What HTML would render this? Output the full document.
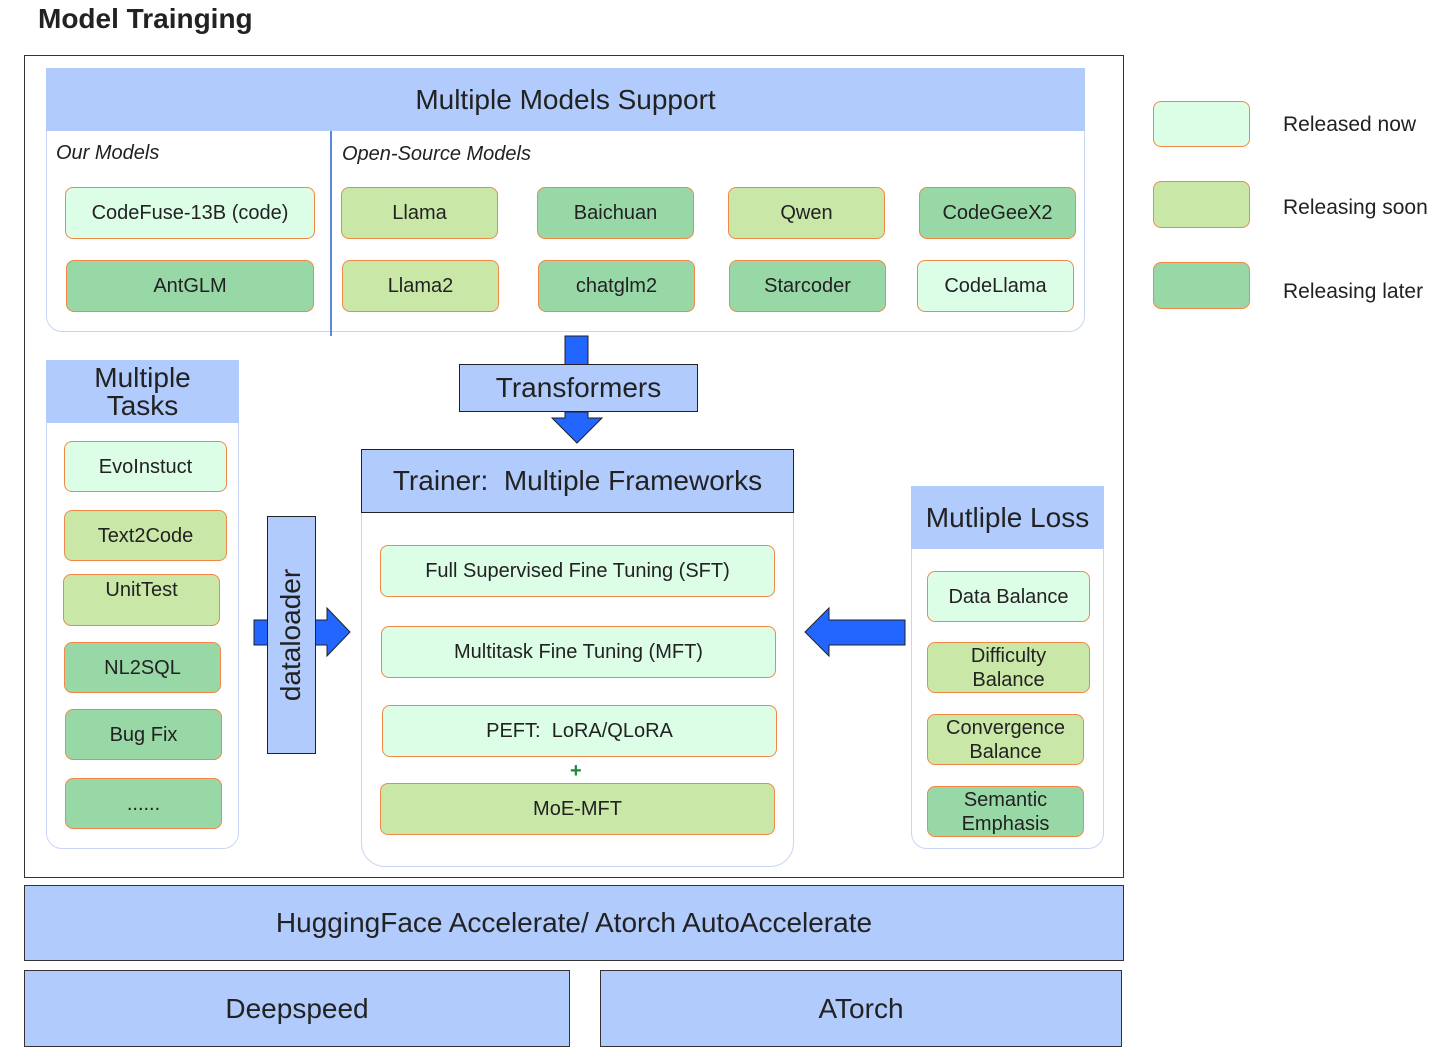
<!DOCTYPE html>
<html><head><meta charset="utf-8"><style>
body{margin:0;width:1442px;height:1064px;background:#fff;position:relative;font-family:"Liberation Sans","DejaVu Sans",sans-serif;color:#222;overflow:hidden}
div{position:absolute;box-sizing:border-box}
.hb{background:#b0cbfc;display:flex;align-items:center;justify-content:center;text-align:center;line-height:1}
.pan{border:1px solid #c8d6f4;border-radius:0 0 16px 16px}
.b{border:1.5px solid #f08848;border-radius:8px;display:flex;align-items:center;justify-content:center;text-align:center;font-size:20px;line-height:1.2}
.n{background:#dcfde6}.s{background:#c9e8a8}.l{background:#98d7a6}
.it{font-style:italic;font-size:20px}
.dk{border:1.5px solid #222}
</style></head><body>
<div style="left:38px;top:3px;font-size:28px;font-weight:bold">Model Trainging</div>
<div style="left:24px;top:55px;width:1100px;height:823px;border:1.5px solid #333"></div>

<div class="pan" style="left:46px;top:68px;width:1039px;height:264px"></div>
<div class="hb" style="left:46px;top:68px;width:1039px;height:63px;font-size:28px">Multiple Models Support</div>
<div style="left:330px;top:131px;width:2px;height:205px;background:#5b8ad8"></div>
<div class="it" style="left:56px;top:142px">Our Models</div>
<div class="it" style="left:342px;top:143px">Open-Source Models</div>
<div class="b n" style="left:65px;top:187px;width:250px;height:52px">CodeFuse-13B (code)</div>
<div class="b l" style="left:66px;top:260px;width:248px;height:52px">AntGLM</div>
<div class="b s" style="left:341px;top:187px;width:157px;height:52px">Llama</div>
<div class="b l" style="left:537px;top:187px;width:157px;height:52px">Baichuan</div>
<div class="b s" style="left:728px;top:187px;width:157px;height:52px">Qwen</div>
<div class="b l" style="left:919px;top:187px;width:157px;height:52px">CodeGeeX2</div>
<div class="b s" style="left:342px;top:260px;width:157px;height:52px">Llama2</div>
<div class="b l" style="left:538px;top:260px;width:157px;height:52px">chatglm2</div>
<div class="b l" style="left:729px;top:260px;width:157px;height:52px">Starcoder</div>
<div class="b n" style="left:917px;top:260px;width:157px;height:52px">CodeLlama</div>

<svg style="position:absolute;left:0;top:0" width="1442" height="1064">
<rect x="565" y="336" width="23" height="30" fill="#2266ff" stroke="#222"/>
<polygon points="565,412 588,412 588,418 602,418 577,443 552,418 565,418" fill="#2266ff" stroke="#222"/>
<polygon points="254,620 327,620 327,608 350,632 327,656 327,645 254,645" fill="#2266ff" stroke="#222"/>
<polygon points="905,620 829,620 829,608 805,632 829,656 829,645 905,645" fill="#2266ff" stroke="#222"/>
</svg>
<div class="hb dk" style="left:459px;top:364px;width:239px;height:48px;font-size:28px">Transformers</div>

<div class="pan" style="left:46px;top:360px;width:193px;height:489px"></div>
<div class="hb" style="left:46px;top:360px;width:193px;height:63px;font-size:28px">Multiple<br>Tasks</div>
<div class="b n" style="left:64px;top:441px;width:163px;height:51px">EvoInstuct</div>
<div class="b s" style="left:64px;top:510px;width:163px;height:51px">Text2Code</div>
<div class="b s" style="left:63px;top:574px;width:157px;height:52px;align-items:flex-start;padding-top:3px">UnitTest</div>
<div class="b l" style="left:64px;top:642px;width:157px;height:51px">NL2SQL</div>
<div class="b l" style="left:65px;top:709px;width:157px;height:51px">Bug Fix</div>
<div class="b l" style="left:65px;top:778px;width:157px;height:51px">......</div>

<div class="hb dk" style="left:267px;top:516px;width:49px;height:238px"><span style="transform:rotate(-90deg);font-size:28px;white-space:nowrap">dataloader</span></div>

<div class="pan" style="left:361px;top:449px;width:433px;height:418px;border-radius:0 0 24px 24px"></div>
<div class="hb dk" style="left:361px;top:449px;width:433px;height:64px;font-size:28px">Trainer:&nbsp;&nbsp;Multiple Frameworks</div>
<div class="b n" style="left:380px;top:545px;width:395px;height:52px">Full Supervised Fine Tuning (SFT)</div>
<div class="b n" style="left:381px;top:626px;width:395px;height:52px">Multitask Fine Tuning (MFT)</div>
<div class="b n" style="left:382px;top:705px;width:395px;height:52px">PEFT:&nbsp;&nbsp;LoRA/QLoRA</div>
<div style="left:570px;top:760px;font-size:20px;color:#1a8a3a;font-weight:bold">+</div>
<div class="b s" style="left:380px;top:783px;width:395px;height:52px">MoE-MFT</div>

<div class="pan" style="left:911px;top:486px;width:193px;height:363px"></div>
<div class="hb" style="left:911px;top:486px;width:193px;height:63px;font-size:28px">Mutliple Loss</div>
<div class="b n" style="left:927px;top:571px;width:163px;height:51px">Data Balance</div>
<div class="b s" style="left:927px;top:642px;width:163px;height:51px">Difficulty<br>Balance</div>
<div class="b s" style="left:927px;top:714px;width:157px;height:51px">Convergence<br>Balance</div>
<div class="b l" style="left:927px;top:786px;width:157px;height:51px">Semantic<br>Emphasis</div>

<div class="hb" style="left:24px;top:885px;width:1100px;height:76px;font-size:28px;border:1.5px solid #333">HuggingFace Accelerate/ Atorch AutoAccelerate</div>
<div class="hb" style="left:24px;top:970px;width:546px;height:77px;font-size:28px;border:1.5px solid #333">Deepspeed</div>
<div class="hb" style="left:600px;top:970px;width:522px;height:77px;font-size:28px;border:1.5px solid #333">ATorch</div>

<div class="b n" style="left:1153px;top:101px;width:97px;height:46px"></div>
<div class="b s" style="left:1153px;top:181px;width:97px;height:47px"></div>
<div class="b l" style="left:1153px;top:262px;width:97px;height:47px"></div>
<div style="left:1283px;top:113px;font-size:21px">Released now</div>
<div style="left:1283px;top:196px;font-size:21px">Releasing soon</div>
<div style="left:1283px;top:280px;font-size:21px">Releasing later</div>
</body></html>
